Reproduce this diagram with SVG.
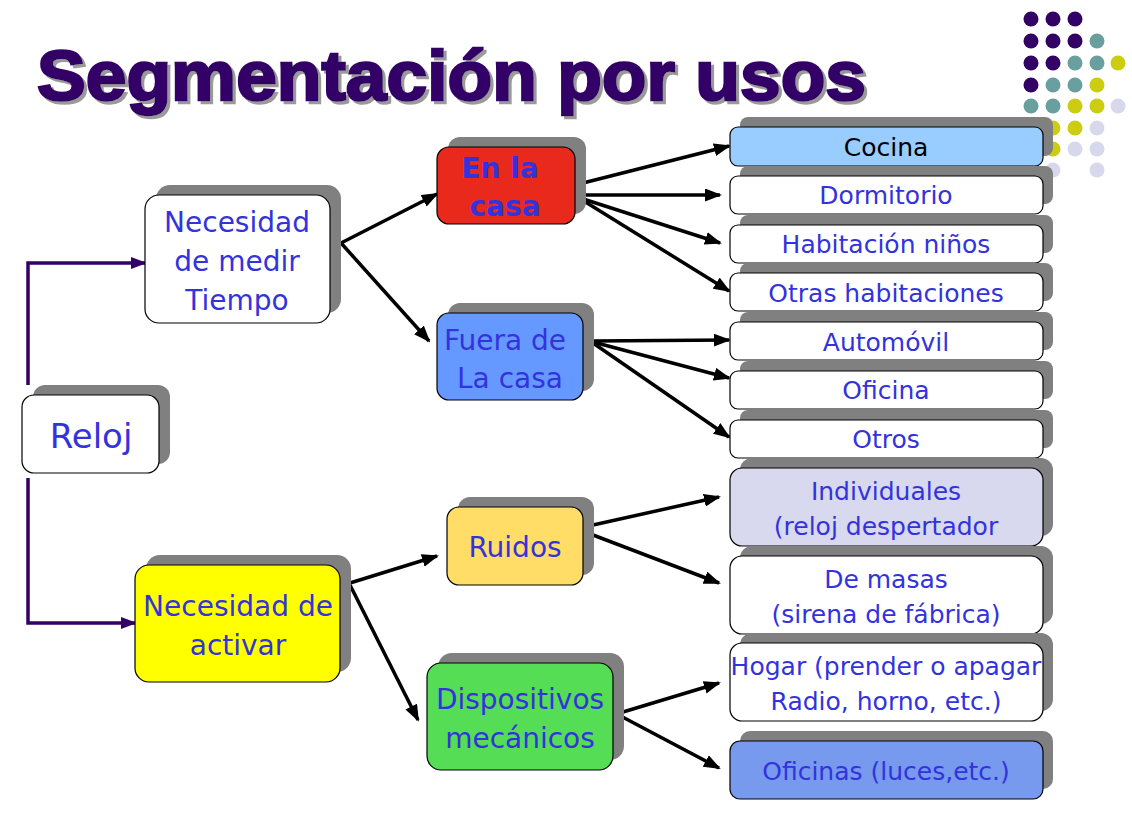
<svg xmlns="http://www.w3.org/2000/svg" width="1132" height="813" viewBox="0 0 1132 813">
<defs>
<style>
.t{font-family:"DejaVu Sans",Verdana,sans-serif;fill:#3333dd;text-anchor:middle}
.l{font-size:28px}
.r{font-size:25px}
.sh{fill:#808080}
.bx{stroke:#000;stroke-width:1.2}
.c{stroke:#000;stroke-width:3.5;fill:none;marker-end:url(#ab)}
.p{stroke:#330066;stroke-width:3.5;fill:none;marker-end:url(#ap)}
.d1{fill:#330066}.d2{fill:#6a9fa0}.d3{fill:#cccc11}.d4{fill:#d8d8ec}
</style>
<filter id="ts" x="-5%" y="-20%" width="110%" height="140%">
<feOffset in="SourceAlpha" dx="3" dy="3" result="o"/>
<feFlood flood-color="#9a9a9a"/>
<feComposite in2="o" operator="in" result="s"/>
<feMerge><feMergeNode in="s"/><feMergeNode in="SourceGraphic"/></feMerge>
</filter>
<marker id="ab" markerUnits="userSpaceOnUse" markerWidth="17" markerHeight="13" refX="15" refY="6.5" orient="auto"><path d="M0,0 L17,6.5 L0,13 Z" fill="#000"/></marker>
<marker id="ap" markerUnits="userSpaceOnUse" markerWidth="16" markerHeight="12" refX="14" refY="6" orient="auto"><path d="M0,0 L16,6 L0,12 Z" fill="#330066"/></marker>
</defs>
<rect width="1132" height="813" fill="#fff"/>
<g id="dots">
<circle class="d1" cx="1031" cy="19" r="7.5"/><circle class="d1" cx="1053" cy="19" r="7.5"/><circle class="d1" cx="1075" cy="19" r="7.5"/>
<circle class="d1" cx="1031" cy="41" r="7.5"/><circle class="d1" cx="1053" cy="41" r="7.5"/><circle class="d1" cx="1075" cy="41" r="7.5"/><circle class="d2" cx="1097" cy="41" r="7.5"/>
<circle class="d1" cx="1031" cy="63" r="7.5"/><circle class="d1" cx="1053" cy="63" r="7.5"/><circle class="d2" cx="1075" cy="63" r="7.5"/><circle class="d2" cx="1097" cy="63" r="7.5"/><circle class="d3" cx="1118" cy="63" r="7.5"/>
<circle class="d1" cx="1031" cy="85" r="7.5"/><circle class="d2" cx="1053" cy="85" r="7.5"/><circle class="d2" cx="1075" cy="85" r="7.5"/><circle class="d3" cx="1097" cy="85" r="7.5"/>
<circle class="d2" cx="1031" cy="106" r="7.5"/><circle class="d2" cx="1053" cy="106" r="7.5"/><circle class="d3" cx="1075" cy="106" r="7.5"/><circle class="d3" cx="1097" cy="106" r="7.5"/><circle class="d4" cx="1118" cy="106" r="7.5"/>
<circle class="d3" cx="1053" cy="128" r="7.5"/><circle class="d3" cx="1075" cy="128" r="7.5"/><circle class="d4" cx="1097" cy="128" r="7.5"/>
<circle class="d3" cx="1053" cy="149" r="7.5"/><circle class="d4" cx="1075" cy="149" r="7.5"/><circle class="d4" cx="1097" cy="149" r="7.5"/>
<circle class="d4" cx="1053" cy="170" r="7.5"/><circle class="d4" cx="1097" cy="170" r="7.5"/>
</g>
<g id="title" font-family="'Liberation Sans',Arial,sans-serif" font-weight="bold" font-size="71" filter="url(#ts)">
<text x="37" y="100" fill="#330066" stroke="#330066" stroke-width="2.5" textLength="829" lengthAdjust="spacingAndGlyphs">Segmentación por usos</text>
</g>
<g id="connectors">
<path class="p" d="M28,385 V263 H145"/>
<path class="p" d="M28,478 V623 H135"/>
<path class="c" d="M341,243 L437,194"/>
<path class="c" d="M341,243 L429,341"/>
<path class="c" d="M583,183 L729,146"/>
<path class="c" d="M575,195 L720,195"/>
<path class="c" d="M577,197 L720,243"/>
<path class="c" d="M579,198 L729,291"/>
<path class="c" d="M593,341 L729,340"/>
<path class="c" d="M593,342 L729,378"/>
<path class="c" d="M593,343 L729,437"/>
<path class="c" d="M350,583 L437,556"/>
<path class="c" d="M350,585 L418,720"/>
<path class="c" d="M593,525 L719,497"/>
<path class="c" d="M593,535 L719,583"/>
<path class="c" d="M623,712 L719,683"/>
<path class="c" d="M613,712 L719,768"/>
</g>
<g id="reloj"><rect class="sh" x="33" y="385" width="137" height="79" rx="12"/><rect class="bx" x="22" y="395" width="137" height="78" rx="12" fill="#fff"/><text class="t" x="91" y="448" font-size="34">Reloj</text></g>
<g id="medir"><rect class="sh" x="156" y="185" width="185" height="128" rx="14"/><rect class="bx" x="145" y="195" width="185" height="128" rx="14" fill="#fff"/><text class="t l" x="237" y="232">Necesidad</text><text class="t l" x="237" y="271">de medir</text><text class="t l" x="237" y="310">Tiempo</text></g>
<g id="activar"><rect class="sh" x="146" y="555" width="205" height="117" rx="14"/><rect class="bx" x="135" y="565" width="205" height="117" rx="14" fill="#ffff00"/><text class="t l" x="238" y="616">Necesidad de</text><text class="t l" x="238" y="655">activar</text></g>
<g id="enlacasa"><rect class="sh" x="448" y="137" width="138" height="77" rx="12"/><rect class="bx" x="437" y="147" width="138" height="77" rx="12" fill="#e8291c"/><text class="t l" x="500" y="178" font-weight="bold">En la</text><text class="t l" x="505" y="216" font-weight="bold">casa</text></g>
<g id="fuera"><rect class="sh" x="448" y="303" width="146" height="88" rx="12"/><rect class="bx" x="437" y="313" width="146" height="87" rx="12" fill="#6699ff"/><text class="t l" x="505" y="350">Fuera de</text><text class="t l" x="510" y="388">La casa</text></g>
<g id="ruidos"><rect class="sh" x="458" y="497" width="136" height="78" rx="12"/><rect class="bx" x="447" y="507" width="136" height="78" rx="12" fill="#ffdd66"/><text class="t l" x="515" y="557">Ruidos</text></g>
<g id="dispositivos"><rect class="sh" x="438" y="653" width="186" height="107" rx="14"/><rect class="bx" x="427" y="663" width="186" height="107" rx="14" fill="#55dd55"/><text class="t l" x="520" y="709">Dispositivos</text><text class="t l" x="520" y="748">mecánicos</text></g>
<g id="cocina"><rect class="sh" x="740" y="117" width="313" height="39" rx="8"/><rect class="bx" x="730" y="127" width="313" height="39" rx="8" fill="#99ccff"/><text class="t r" x="886" y="156" style="fill:#000">Cocina</text></g>
<g id="dormitorio"><rect class="sh" x="740" y="166" width="313" height="38" rx="8"/><rect class="bx" x="730" y="176" width="313" height="38" rx="8" fill="#fff"/><text class="t r" x="886" y="204">Dormitorio</text></g>
<g id="ninos"><rect class="sh" x="740" y="215" width="313" height="38" rx="8"/><rect class="bx" x="730" y="225" width="313" height="38" rx="8" fill="#fff"/><text class="t r" x="886" y="253">Habitación niños</text></g>
<g id="otras"><rect class="sh" x="740" y="263" width="313" height="38" rx="8"/><rect class="bx" x="730" y="273" width="313" height="38" rx="8" fill="#fff"/><text class="t r" x="886" y="302">Otras habitaciones</text></g>
<g id="automovil"><rect class="sh" x="740" y="312" width="313" height="38" rx="8"/><rect class="bx" x="730" y="322" width="313" height="38" rx="8" fill="#fff"/><text class="t r" x="886" y="351">Automóvil</text></g>
<g id="oficina"><rect class="sh" x="740" y="361" width="313" height="38" rx="8"/><rect class="bx" x="730" y="371" width="313" height="38" rx="8" fill="#fff"/><text class="t r" x="886" y="399">Oficina</text></g>
<g id="otros"><rect class="sh" x="740" y="410" width="313" height="38" rx="8"/><rect class="bx" x="730" y="420" width="313" height="38" rx="8" fill="#fff"/><text class="t r" x="886" y="448">Otros</text></g>
<g id="individuales"><rect class="sh" x="740" y="458" width="313" height="78" rx="12"/><rect class="bx" x="730" y="468" width="313" height="78" rx="12" fill="#d8d8ee"/><text class="t r" x="886" y="500">Individuales</text><text class="t r" x="886" y="535">(reloj despertador</text></g>
<g id="masas"><rect class="sh" x="740" y="546" width="313" height="78" rx="12"/><rect class="bx" x="730" y="556" width="313" height="78" rx="12" fill="#fff"/><text class="t r" x="886" y="588">De masas</text><text class="t r" x="886" y="623">(sirena de fábrica)</text></g>
<g id="hogar"><rect class="sh" x="740" y="633" width="313" height="78" rx="12"/><rect class="bx" x="730" y="643" width="313" height="78" rx="12" fill="#fff"/><text class="t r" x="886" y="675" font-size="24.5">Hogar (prender o apagar</text><text class="t r" x="886" y="710">Radio, horno, etc.)</text></g>
<g id="oficinas"><rect class="sh" x="740" y="731" width="313" height="58" rx="10"/><rect class="bx" x="730" y="741" width="313" height="58" rx="10" fill="#7799ee"/><text class="t r" x="886" y="780">Oficinas (luces,etc.)</text></g>
</svg>
